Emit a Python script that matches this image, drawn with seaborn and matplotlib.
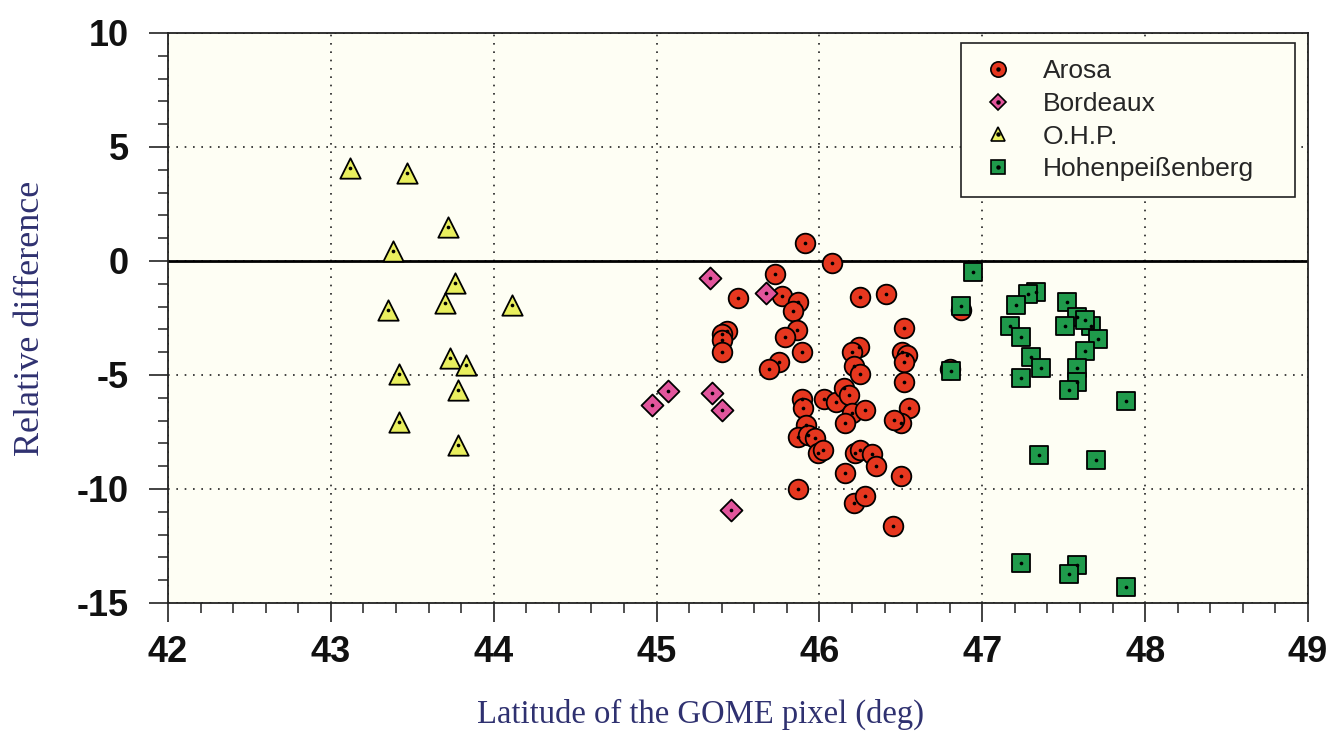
import numpy as np
import pandas as pd
import matplotlib
matplotlib.use('Agg')
import matplotlib.pyplot as plt
from matplotlib.lines import Line2D
from matplotlib.ticker import MultipleLocator
import seaborn as sns

# Station data (latitude, relative difference)
arosa_lat = [45.91, 45.73, 46.08, 45.50, 45.77, 45.87, 45.84, 46.25, 46.41,
             45.43, 45.40, 45.40, 45.40, 45.86, 45.79, 45.89, 45.75, 45.69,
             46.52, 46.24, 46.20, 46.21, 46.25, 46.51, 46.54, 46.52, 46.52,
             45.89, 45.90, 46.03, 46.10, 46.15, 46.18, 46.20, 46.16, 46.28,
             46.55, 46.50, 46.46, 45.92, 45.87, 45.93, 45.97, 45.99, 46.02,
             46.22, 46.25, 46.32, 46.35, 46.16, 46.50, 45.87, 46.21, 46.28,
             46.45, 46.87, 46.80]
arosa_diff = [0.77, -0.55, -0.10, -1.64, -1.55, -1.78, -2.20, -1.56, -1.43,
              -3.09, -3.19, -3.48, -4.00, -3.04, -3.34, -4.00, -4.45, -4.72,
              -2.92, -3.75, -4.00, -4.62, -4.97, -4.00, -4.14, -4.45, -5.32,
              -6.06, -6.46, -6.06, -6.20, -5.58, -5.89, -6.68, -7.12, -6.55,
              -6.46, -7.12, -6.98, -7.20, -7.73, -7.64, -7.77, -8.43, -8.30,
              -8.43, -8.30, -8.47, -9.00, -9.30, -9.43, -10.00, -10.62, -10.31,
              -11.63, -2.13, -4.75]

bordeaux_lat = [45.33, 45.67, 45.07, 44.97, 45.34, 45.40, 45.46]
bordeaux_diff = [-0.75, -1.42, -5.68, -6.30, -5.80, -6.52, -10.92]

ohp_lat = [43.12, 43.47, 43.72, 43.38, 43.76, 43.35, 43.70, 44.11, 43.73,
           43.83, 43.42, 43.78, 43.42, 43.78]
ohp_diff = [4.10, 3.88, 1.51, 0.42, -0.98, -2.17, -1.86, -1.95, -4.27,
            -4.58, -4.97, -5.67, -7.07, -8.08]

hohen_lat = [46.94, 46.87, 46.81, 47.33, 47.28, 47.21, 47.17, 47.24, 47.30,
             47.36, 47.24, 47.52, 47.58, 47.51, 47.67, 47.63, 47.71, 47.63,
             47.58, 47.58, 47.53, 47.88, 47.35, 47.70, 47.24, 47.58, 47.53,
             47.88]
hohen_diff = [-0.50, -1.99, -4.83, -1.37, -1.43, -1.94, -2.85, -3.33, -4.23,
              -4.70, -5.13, -1.82, -2.47, -2.85, -2.85, -2.60, -3.43, -3.95,
              -4.70, -5.30, -5.67, -6.15, -8.50, -8.73, -13.24, -13.33, -13.72,
              -14.30]

stations = ['Arosa', 'Bordeaux', 'O.H.P.', 'Hohenpeißenberg']

sns.set_style('ticks')
plt.rcParams['axes.unicode_minus'] = False
plt.rcParams['font.family'] = ['Liberation Sans', 'DejaVu Sans']

frames = []
for name, lat, diff in zip(stations,
                           [arosa_lat, bordeaux_lat, ohp_lat, hohen_lat],
                           [arosa_diff, bordeaux_diff, ohp_diff, hohen_diff]):
    frames.append(pd.DataFrame({'lat': lat, 'diff': diff, 'station': name}))
df = pd.concat(frames, ignore_index=True)

# marker look per station
styles = {
    'Arosa': dict(marker='o', color='#E6371F', s=200, leg=11),
    'Bordeaux': dict(marker='D', color='#E2559C', s=125, leg=8),
    'O.H.P.': dict(marker='^', color='#E9EF5E', s=215, leg=9.5),
    'Hohenpeißenberg': dict(marker='s', color='#1F9A4B', s=170, leg=9.5),
}

fig = plt.figure(figsize=(13.29, 7.5), dpi=100, facecolor='white')
ax = fig.add_axes([168 / 1329, 147 / 750, 1140 / 1329, 570 / 750])
ax.set_facecolor('#FEFEF4')

for name in stations:
    st = styles[name]
    sub = df[df['station'] == name]
    sns.scatterplot(data=sub, x='lat', y='diff', marker=st['marker'],
                    color=st['color'], s=st['s'], edgecolor='black',
                    linewidth=1.3, ax=ax, zorder=3, legend=False)
    sns.scatterplot(data=sub, x='lat', y='diff', marker='o', color='black',
                    s=7, linewidth=0, ax=ax, zorder=3, legend=False)

ax.axhline(0, color='black', lw=2.0, zorder=2)

ax.set_xlim(42, 49)
ax.set_ylim(-15, 10)
ax.xaxis.set_major_locator(MultipleLocator(1))
ax.xaxis.set_minor_locator(MultipleLocator(0.2))
ax.yaxis.set_major_locator(MultipleLocator(5))
ax.yaxis.set_minor_locator(MultipleLocator(1))

ax.grid(True, which='major', color='#222222', lw=1.2,
        linestyle=(0, (1, 4.0)), zorder=1)
for sp in ax.spines.values():
    sp.set_color('#222222')
    sp.set_linewidth(1.3)

ax.tick_params(which='both', direction='out', colors='#222222',
               top=False, right=False)
ax.tick_params(which='major', length=14, width=1.2, labelsize=26,
               labelcolor='#111111')
ax.tick_params(which='minor', length=7, width=1.1)
ax.tick_params(axis='x', which='major', pad=9)
ax.tick_params(axis='y', which='major', pad=14)
for lab in ax.get_xticklabels() + ax.get_yticklabels():
    lab.set_fontweight('bold')

label_color = '#2F3170'
ax.set_xlabel('Latitude of the GOME pixel (deg)', family='Liberation Serif',
              fontsize=23.5, color=label_color, va='center')
ax.xaxis.set_label_coords(0.467, -0.196)
ax.set_ylabel('Relative difference', family='Liberation Serif',
              fontsize=26, color=label_color, va='center')
ax.yaxis.set_label_coords(-0.121, 0.5)

# legend with the little centre dot in every symbol
handles = []
for name in stations:
    st = styles[name]
    big = Line2D([], [], ls='', marker=st['marker'], markersize=st['leg'],
                 markerfacecolor=st['color'], markeredgecolor='black',
                 markeredgewidth=1.2)
    dot = Line2D([], [], ls='', marker='o', markersize=2.2, color='black')
    handles.append((big, dot))

leg = ax.legend(handles, stations, loc='upper left',
                bbox_to_anchor=(0.696, 0.702, 0.293, 0.28), mode='expand',
                borderaxespad=0, fontsize=19, frameon=True, fancybox=False,
                borderpad=0.6, labelspacing=0.33, handlelength=1.6,
                handletextpad=0.9)
leg.get_frame().set_edgecolor('#222222')
leg.get_frame().set_linewidth(1.2)
leg.get_frame().set_facecolor('#FEFEF4')
leg.get_frame().set_alpha(1)
leg.set_zorder(5)

fig.savefig('out.png', dpi=100, facecolor='white')
